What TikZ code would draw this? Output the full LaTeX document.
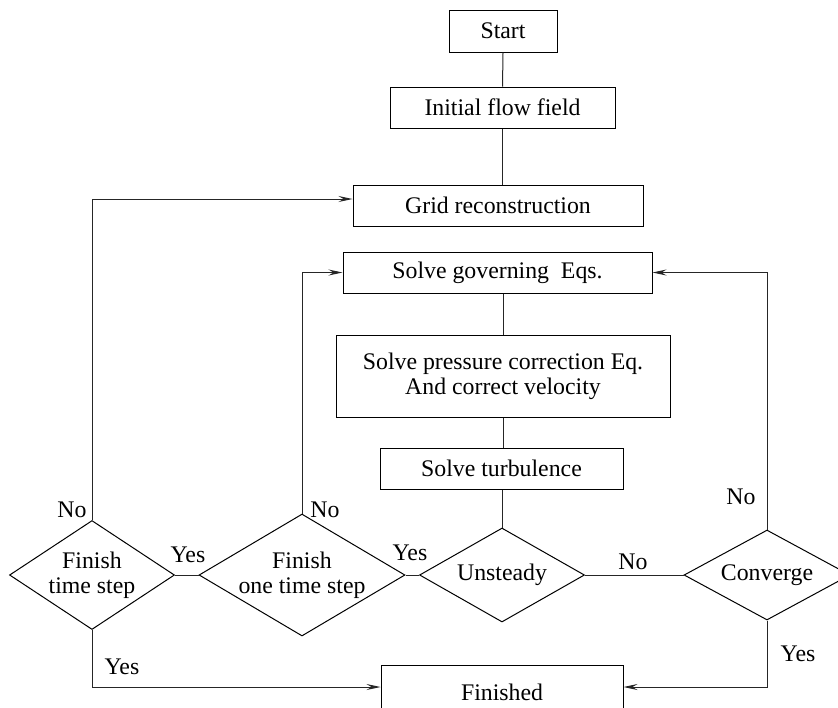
\documentclass[tikz,border=0pt]{standalone}
\usepackage{fontspec}
\setmainfont{Liberation Serif}
\usetikzlibrary{shapes.geometric,arrows.meta,calc}
\begin{document}
\begin{tikzpicture}[x=0.5pt,y=-0.5pt,
  every node/.style={font=\fontsize{11.9}{12.5}\selectfont},
  box/.style={draw,line width=0.5pt,inner sep=0pt,align=center},
  dia/.style={draw,diamond,line width=0.5pt,inner sep=0pt,align=center},
  conn/.style={line width=0.5pt,draw=black!85},
  arr/.style={conn,-{Stealth[length=7pt,width=3pt,inset=2.5pt]}},
  lab/.style={inner sep=0pt}]
\useasboundingbox (0,0) rectangle (838,707);
\node[box,minimum width=54pt,minimum height=21pt] (start) at (503,31) {Start};
\node[box,minimum width=112.5pt,minimum height=20.5pt] (init) at (502.5,107.5) {Initial flow field};
\node[box,minimum width=145pt,minimum height=20.5pt] (grid) at (498,205.5) {Grid reconstruction};
\node[box,minimum width=154.5pt,minimum height=20.5pt] (gov) at (497.5,272.5) {Solve governing\ \ Eqs.};
\node[box,minimum width=167pt,minimum height=41pt] (press) at (503,376) {Solve pressure correction Eq.\\And correct velocity};
\node[box,minimum width=121.5pt,minimum height=20.5pt] (turb) at (501.5,468.5) {Solve turbulence};
\node[dia,aspect=1.76,minimum width=82.5pt,minimum height=47pt] (unst) at (502,575) {Unsteady};
\node[dia,aspect=1.84,minimum width=83pt,minimum height=45pt] (conv) at (767,575) {Converge};
\node[dia,aspect=1.51,minimum width=82.5pt,minimum height=54.5pt] (fts) at (92,575) {Finish\\time step};
\node[dia,aspect=1.69,minimum width=103pt,minimum height=61pt] (fots) at (302,575) {Finish\\one time step};
\node[box,minimum width=121pt,minimum height=27.5pt] (fin) at (502,692.5) {Finished};
\coordinate (gw) at ([yshift=3.25pt]grid.west);
\coordinate (fw) at ([yshift=2.75pt]fin.west);
\coordinate (fe) at ([yshift=2.75pt]fin.east);
\draw[conn] (start.south) -- (init.north);
\draw[conn] (init.south) -- (init.south |- grid.north);
\draw[conn] (gov.south -| press.north) -- (press.north);
\draw[conn] (press.south) -- (press.south |- turb.north);
\draw[conn] (turb.south -| unst.north) -- (unst.north);
\draw[conn] (unst.east) -- (conv.west);
\draw[arr] (conv.north) |- (gov.east);
\draw[arr] (conv.south) |- (fe);
\draw[conn] (unst.west) -- (fots.east);
\draw[arr] (fots.north) |- (gov.west);
\draw[conn] (fots.west) -- (fts.east);
\draw[arr] (fts.north) |- (gw);
\draw[arr] (fts.south) |- (fw);
\node[lab] (l1) at (633,562) {No};
\node[lab] (l2) at (741,497) {No};
\node[lab] (l3) at (798,654) {Yes};
\node[lab] (l4) at (410,553) {Yes};
\node[lab] (l5) at (325,510) {No};
\node[lab] (l6) at (188,555) {Yes};
\node[lab] (l7) at (72,510) {No};
\node[lab] (l8) at (122,667) {Yes};
\end{tikzpicture}
\end{document}
